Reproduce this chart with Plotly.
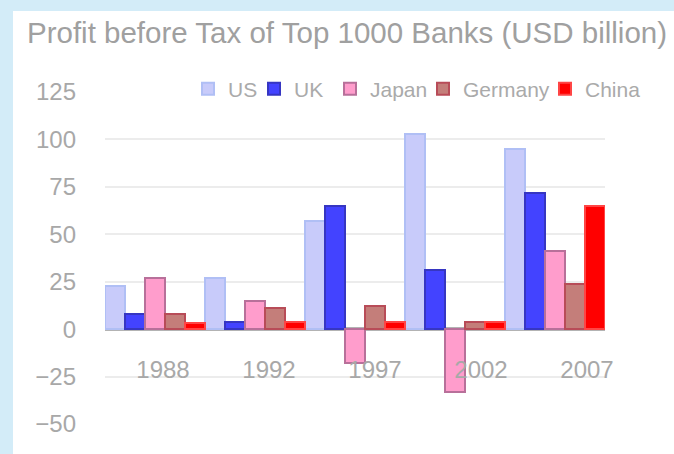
import plotly.graph_objects as go

years = ["1988", "1992", "1997", "2002", "2007"]
us = [23, 27, 57, 103, 95]
uk = [8, 4, 65, 31, 72]
japan = [27, 15, -18, -33, 41]
germany = [8, 11, 12, 4, 24]
china = [3, 4, 4, 4, 65]

series = [
    ("US", us, "#c8cbfa", "#b0bff5"),
    ("UK", uk, "#4343ff", "#3636c2"),
    ("Japan", japan, "#ff9dcc", "#b8709a"),
    ("Germany", germany, "#c47e7a", "#b84c58"),
    ("China", china, "#ff0000", "#ff4545"),
]
legend_x_px = [188, 254, 330, 423, 545]

ymin, ymax = -50, 125

W, H = 674, 454
ml, mr, mt, mb = 105, 69, 92, 30
pw, ph = W - ml - mr, H - mt - mb

fig = go.Figure()
legends = {}
for i, (name, vals, fill, edge) in enumerate(series):
    lname = "legend" if i == 0 else f"legend{i + 1}"
    fig.add_trace(go.Bar(
        x=years, y=vals, name=name, legend=lname,
        marker=dict(color=fill, line=dict(color=edge, width=2)),
    ))
    legends[lname] = dict(
        orientation="h",
        x=(legend_x_px[i] - ml) / pw, xanchor="left",
        y=(H - mb - 89) / ph, yanchor="middle",
        bgcolor="rgba(0,0,0,0)",
        font=dict(size=21, color="#aaaaaa"),
        itemwidth=30,
    )

# carrier for the year labels on the overlaid label axis
fig.add_trace(go.Scatter(
    x=list(range(len(years))), y=[0] * len(years), xaxis="x2", yaxis="y",
    mode="none", showlegend=False, hoverinfo="skip",
))

fig.update_layout(
    width=W, height=H,
    margin=dict(l=ml, r=mr, t=mt, b=mb, autoexpand=False),
    barmode="group", bargap=0, bargroupgap=0,
    paper_bgcolor="#d3ecf8",
    plot_bgcolor="rgba(0,0,0,0)",
    font=dict(family="Liberation Sans", color="#aaaaaa"),
    title=dict(
        text="Profit before Tax of Top 1000 Banks (USD billion)",
        font=dict(size=29.5, color="#a0a0a0", family="Liberation Sans"),
        x=27 / W, xanchor="left", xref="container",
        y=1 - 33 / H, yanchor="middle", yref="container",
        pad=dict(l=0, r=0, t=0, b=0),
    ),
    showlegend=True,
    shapes=[
        dict(
            type="rect", xref="paper", yref="paper", layer="below",
            x0=(13 - ml) / pw, x1=(W - ml) / pw + 0.01,
            y0=-mb / ph - 0.01, y1=(H - mb - 11) / ph,
            fillcolor="#ffffff", line=dict(width=0),
        ),
        dict(
            type="rect", xref="paper", yref="paper", layer="above",
            x0=(182 - ml) / pw, x1=(W - ml) / pw,
            y0=(H - mb - 102) / ph, y1=(H - mb - 76) / ph,
            fillcolor="#ffffff", line=dict(width=0),
        ),
    ],
    **legends,
)

zero_pos = (0 - ymin) / (ymax - ymin)
# category labels sit on a slightly wider scale than the bar groups
lab_first_px, lab_step_px = 163, 106
a = -(lab_first_px - ml) / lab_step_px
b = a + pw / lab_step_px

fig.update_layout(
    xaxis=dict(
        anchor="free", position=zero_pos,
        showgrid=False, zeroline=False, showline=False, automargin=False,
        ticks="", showticklabels=False,
    ),
    xaxis2=dict(
        overlaying="x", anchor="free", position=zero_pos, side="bottom",
        range=[a, b], tickvals=list(range(len(years))), ticktext=years,
        showgrid=False, zeroline=False, showline=False, automargin=False,
        ticks="", ticklabelstandoff=24,
        tickfont=dict(size=24, color="#a8a8a8"),
    ),
    yaxis=dict(
        range=[ymin, ymax], dtick=25, tick0=0, automargin=False,
        showgrid=True, gridcolor="#ececec", gridwidth=2,
        zeroline=True, zerolinecolor="#b3b3b3", zerolinewidth=4,
        showline=False, ticks="", ticklabelstandoff=28,
        tickfont=dict(size=24, color="#a8a8a8"),
    ),
)

fig.write_html(
    "out.html",
    config={"displayModeBar": False},
    post_script="document.body.style.margin='0';",
)
